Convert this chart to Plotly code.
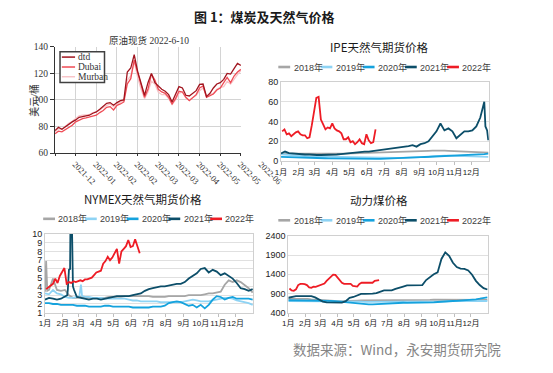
import plotly.graph_objects as go
import pandas as pd

W, H = 553, 373
PAGE_OFFSET = 8  # default body margin of the html page

# ---------------- data ----------------
# Crude oil spot (top-left), every 3 days from 2021-12-29
oil_start = "2021-12-29"
oil_dtd = [77, 79.5, 78, 80, 82, 83.5, 85, 87, 87.5, 88,
           88.5, 90, 91, 93, 95.5, 97.5, 98, 96, 98, 99.5,
           100, 121, 124, 134, 121.5, 112, 103.5, 113, 120, 113,
           110.5, 108, 106.5, 104, 98.5, 104, 110, 109, 103.5, 103,
           105, 107, 111.7, 112, 102.5, 105, 109, 112, 113, 115.5,
           120, 119.5, 123.5, 127.5, 126]
oil_dubai = [74.5, 76.5, 76, 77.5, 79.5, 81, 83.5, 85, 86, 86.5,
             87, 88, 88.5, 90.5, 92, 94.5, 95, 92.5, 96, 97,
             98.5, 112, 116, 130, 120, 110, 102, 108, 119.5, 115,
             108, 106, 105, 102, 97, 101, 106.5, 106, 102, 99.5,
             102, 104, 109, 110.5, 102, 103, 104.5, 107.5, 109, 113,
             117, 113, 118, 121, 123]
oil_murban = [76, 78.5, 78, 80.5, 82.5, 84, 86, 88, 88.5, 89,
              89, 90.5, 91, 92.5, 94.5, 96, 97, 95, 97, 98.5,
              99.5, 115, 118, 129, 117, 108, 101, 106, 114, 112,
              106, 104, 104, 101, 96.5, 100, 105, 106, 101.5, 100,
              102, 103.5, 107, 109, 103, 104, 105, 108, 109.5, 110,
              114, 112, 116, 119, 122]
oil_tick_start = "2021-12-29"
oil_tick_step_days = 18
oil_tick_count = 10

# Seasonal charts: day-of-year sampling
WEEK = list(range(1, 366, 7))      # weekly samples for full years
D22 = list(range(3, 168, 4))       # 2022 samples (every 4 days)
month_days = [1, 32, 60, 91, 121, 152, 182, 213, 244, 274, 305, 335]
month_labels = ["1月", "2月", "3月", "4月", "5月", "6月", "7月", "8月", "9月", "10月", "11月", "12月"]
years = ["2018年", "2019年", "2020年", "2021年", "2022年"]

# IPE natural gas futures
ipe_2018 = [7.5, 7.6, 7.4, 7.3, 7.2, 7.4, 7.6, 7.5, 7.3, 7.2, 7.1, 7.0, 7.0, 7.1, 7.2, 7.3, 7.5, 7.6, 7.8, 7.9,
            8.0, 8.0, 8.1, 8.2, 8.3, 8.4, 8.5, 8.6, 8.7, 8.8, 8.9, 9.0, 9.2, 9.4, 9.6, 9.8, 10.0, 10.3, 10.5, 10.7,
            10.6, 10.4, 10.2, 10.0, 9.8, 9.6, 9.5, 9.4, 9.2, 9.0, 8.8, 8.6, 8.4]
ipe_2019 = [6.8, 6.6, 6.3, 6.0, 5.6, 5.2, 4.9, 4.6, 4.5, 4.4, 4.3, 4.2, 4.1, 4.0, 3.9, 3.8, 3.7, 3.5, 3.4, 3.3,
            3.2, 3.1, 3.0, 3.0, 3.1, 3.0, 2.9, 2.9, 3.0, 3.0, 3.1, 3.2, 3.3, 3.4, 3.5, 3.7, 3.9, 4.2, 4.6, 5.0,
            5.2, 5.3, 5.4, 5.3, 5.1, 5.0, 4.9, 4.8, 4.6, 4.5, 4.3, 4.2, 4.1]
ipe_2020 = [4.2, 4.0, 3.9, 3.8, 3.6, 3.4, 3.2, 3.0, 2.9, 2.8, 2.8, 2.7, 2.6, 2.5, 2.4, 2.3, 2.2, 2.1, 2.0, 1.9,
            1.9, 1.8, 1.8, 1.9, 2.0, 2.1, 2.2, 2.3, 2.4, 2.6, 2.8, 3.0, 3.2, 3.4, 3.6, 3.8, 4.0, 4.2, 4.4, 4.6,
            4.8, 4.9, 5.0, 5.0, 5.1, 5.2, 5.4, 5.6, 5.9, 6.2, 6.6, 7.0, 7.5]
ipe_2021 = [7.5, 9.5, 8, 7.5, 7, 7, 6.5, 6.5, 6, 6, 6, 6, 6, 6.5, 6.5, 7, 7.5, 8, 8, 8.5,
            9, 9.5, 9.5, 10, 10.5, 11, 12, 12.5, 12.5, 13, 13.5, 14, 15, 16, 14.5, 17, 18, 20, 25, 30,
            38, 31, 33, 30, 23, 27, 30, 30, 31, 35, 44, 60, 21]
ipe_2021_extra_days = [360, 363]
ipe_2021_extra_vals = [35, 31]
ipe_2022 = [30, 32, 27, 28, 25, 27, 29, 30, 27, 26, 26, 23, 24, 36, 50, 64, 65, 42, 37, 32,
            34, 33, 38, 33, 31, 30, 28, 22, 22, 24, 19, 20, 17, 19, 22, 18, 17, 27, 21, 18, 19, 32]

# NYMEX natural gas futures
nym_2018 = [3.4, 3.6, 4.9, 3.6, 3.5, 3.6, 3.0, 2.7, 2.7, 2.8, 2.7, 2.7, 2.7, 2.7, 2.7, 2.7, 2.8, 2.8, 2.8, 2.8,
            2.9, 2.9, 2.9, 2.9, 2.9, 2.9, 2.9, 2.8, 2.8, 2.8, 2.8, 2.9, 2.9, 2.9, 2.9, 2.9, 3.0, 3.0, 3.0, 3.0,
            3.1, 3.2, 3.2, 3.3, 3.4, 4.2, 4.7, 4.5, 4.7, 4.5, 4.2, 3.8, 3.3]
nym_2018_extra_days = [3, 5]
nym_2018_extra_vals = [6.9, 3.5]
nym_2019 = [3.2, 3.1, 3.6, 3.2, 3.1, 2.8, 2.7, 2.7, 2.8, 4.2, 2.8, 2.8, 2.7, 2.7, 2.7, 2.6, 2.6, 2.6, 2.6, 2.6,
            2.6, 2.5, 2.4, 2.4, 2.3, 2.3, 2.3, 2.3, 2.3, 2.2, 2.2, 2.2, 2.2, 2.2, 2.2, 2.3, 2.4, 2.5, 2.4, 2.3,
            2.3, 2.3, 2.4, 2.5, 2.6, 2.7, 2.7, 2.6, 2.4, 2.3, 2.2, 2.1, 1.9]
nym_2019_extra_days = [61, 66]
nym_2019_extra_vals = [2.8, 2.9]
nym_2020 = [2.1, 2.1, 2.0, 2.0, 1.9, 1.9, 1.9, 1.9, 1.8, 1.8, 1.8, 1.7, 1.7, 1.7, 1.7, 1.8, 1.8, 1.7, 1.7, 1.7,
            1.7, 1.7, 1.6, 1.6, 1.6, 1.6, 1.6, 1.7, 1.7, 1.7, 1.8, 2.1, 2.2, 2.3, 2.2, 2.0, 1.8, 1.9, 1.6, 1.9,
            1.5, 1.9, 2.5, 2.9, 2.8, 2.5, 2.7, 2.8, 2.6, 2.6, 2.6, 2.6, 2.5]
nym_2021 = [2.5, 2.7, 2.6, 2.5, 2.6, 2.8, 5.9, 3.2, 2.8, 2.7, 2.6, 2.5, 2.6, 2.6, 2.5, 2.6, 2.7, 2.8, 2.9, 2.9,
            2.9, 2.9, 3.0, 3.1, 3.2, 3.5, 3.7, 3.8, 3.9, 4.0, 4.0, 4.1, 4.2, 4.3, 4.3, 4.5, 4.9, 5.2, 5.5, 6.0,
            6.1, 5.6, 5.9, 5.7, 5.3, 5.5, 5.2, 4.9, 4.4, 3.8, 3.7, 3.5, 3.7]
nym_2021_extra_days = [40, 41, 42, 45, 46, 47, 48, 49, 50, 52]
nym_2021_extra_vals = [3.0, 3.6, 5.8, 6.0, 14.0, 23.0, 12.0, 4.5, 4.0, 3.6]
nym_2022 = [3.7, 3.9, 4.1, 4.3, 4.9, 4.4, 5.2, 5.7, 6.1, 4.3, 4.5, 4.4, 4.6, 4.5, 4.6, 4.7, 4.6, 4.8, 4.8, 4.9,
            5.0, 5.3, 5.6, 5.7, 5.8, 6.6, 6.9, 7.4, 7.0, 7.3, 7.9, 8.3, 6.6, 8.0, 8.3, 8.6, 9.3, 8.5, 8.6, 9.4,
            8.6, 7.8]

# Thermal coal
coal_2018 = [760, 760, 765, 770, 770, 760, 750, 740, 740, 730, 720, 710, 705, 700, 700, 700, 705, 710, 715, 720,
             720, 725, 725, 725, 725, 720, 720, 720, 720, 720, 725, 725, 730, 730, 730, 730, 735, 735, 740, 740,
             740, 745, 745, 745, 745, 740, 740, 740, 735, 735, 735, 735, 735]
coal_2019 = [705, 705, 705, 705, 705, 705, 705, 705, 705, 700, 700, 700, 700, 700, 695, 690, 690, 690, 690, 690,
             685, 685, 685, 680, 680, 680, 680, 680, 680, 680, 680, 680, 680, 680, 680, 680, 680, 680, 685, 690,
             690, 695, 700, 700, 700, 705, 705, 705, 705, 705, 705, 705, 705]
coal_2020 = [725, 725, 725, 725, 725, 725, 725, 725, 725, 720, 715, 710, 700, 690, 680, 665, 650, 640, 630, 625,
             620, 620, 620, 625, 630, 640, 650, 655, 660, 660, 660, 655, 655, 655, 655, 655, 660, 665, 670, 680,
             690, 695, 700, 705, 710, 715, 720, 730, 740, 750, 765, 780, 800]
coal_2021 = [790, 820, 830, 830, 830, 830, 830, 800, 740, 690, 670, 665, 665, 665, 665, 700, 790, 810, 850, 890,
             890, 890, 895, 910, 945, 980, 980, 980, 1020, 1060, 1080, 1110, 1110, 1110, 1110, 1120, 1250, 1330, 1400, 1450,
             1800, 1970, 1880, 1700, 1590, 1550, 1540, 1500, 1390, 1230, 1120, 1040, 1005]
coal_2022 = [1030, 980, 970, 1010, 1120, 1150, 1150, 1145, 1120, 1060, 1050, 1080, 1075, 1100, 1105, 1150, 1160, 1230, 1280, 1330,
             1390, 1385, 1310, 1250, 1180, 1150, 1150, 1150, 1150, 1100, 1090, 1080, 1150, 1180, 1180, 1180, 1180, 1180, 1180, 1230,
             1250, 1250]

# ---------------- styles ----------------
YEAR_COLORS = ["#a6a6a6", "#8ed3f4", "#15a2dd", "#0c4e69", "#ee1c25"]
OIL_COLORS = {"dtd": "#a0141e", "Dubai": "#ef4b55", "Murban": "#f8c4c8"}
SANS = "Liberation Sans, Arial, Noto Sans CJK SC, sans-serif"
CJK = "Noto Sans CJK SC, sans-serif"
SERIF = "Liberation Serif, DejaVu Serif, Noto Sans CJK SC, serif"


def px(x):
    return (x - PAGE_OFFSET) / W


def py(y):
    return 1 - (y - PAGE_OFFSET) / H


def merge(days, vals, extra_days=(), extra_vals=()):
    d = dict(zip(days, vals))
    d.update(zip(extra_days, extra_vals))
    k = sorted(d)
    return k, [d[i] for i in k]


fig = go.Figure()

# ---- oil chart ----
oil_dates = pd.date_range(oil_start, periods=len(oil_dtd), freq="3D")
for name, vals in [("Murban", oil_murban), ("Dubai", oil_dubai), ("dtd", oil_dtd)]:
    fig.add_trace(go.Scatter(x=oil_dates, y=vals, mode="lines", name=name, showlegend=False,
                             line=dict(color=OIL_COLORS[name], width=1.3), xaxis="x", yaxis="y"))

# ---- seasonal charts ----
seasonal = [
    ("2", [merge(WEEK, ipe_2018), merge(WEEK, ipe_2019), merge(WEEK, ipe_2020),
           merge(WEEK, ipe_2021, ipe_2021_extra_days, ipe_2021_extra_vals), merge(D22, ipe_2022)]),
    ("3", [merge(WEEK, nym_2018, nym_2018_extra_days, nym_2018_extra_vals),
           merge(WEEK, nym_2019, nym_2019_extra_days, nym_2019_extra_vals), merge(WEEK, nym_2020),
           merge(WEEK, nym_2021, nym_2021_extra_days, nym_2021_extra_vals), merge(D22, nym_2022)]),
    ("4", [merge(WEEK, coal_2018), merge(WEEK, coal_2019), merge(WEEK, coal_2020),
           merge(WEEK, coal_2021), merge(D22, coal_2022)]),
]
for ax, series in seasonal:
    for (xs, ys), yname, col in zip(series, years, YEAR_COLORS):
        fig.add_trace(go.Scatter(x=xs, y=ys, mode="lines", name=yname, showlegend=False,
                                 line=dict(color=col, width=1.8), xaxis="x" + ax, yaxis="y" + ax))

shapes = []
annotations = []


# ---- manual legends ----
def seasonal_legend(x0, y, step):
    for i, (name, col) in enumerate(zip(years, YEAR_COLORS)):
        xs = x0 + i * step
        shapes.append(dict(type="line", xref="paper", yref="paper", x0=px(xs), x1=px(xs + 13),
                           y0=py(y), y1=py(y), line=dict(color=col, width=2.6)))
        annotations.append(dict(text=name, xref="paper", yref="paper", x=px(xs + 14.5), y=py(y),
                                xanchor="left", yanchor="middle", showarrow=False,
                                font=dict(family=SANS, size=9, color="#404040")))


seasonal_legend(298, 63.5, 46.3)
seasonal_legend(40, 219.5, 45.8)
seasonal_legend(298, 221, 46.3)

# oil legend box
shapes.append(dict(type="rect", xref="paper", yref="paper", x0=px(58.5), x1=px(107.3), y0=py(79.3), y1=py(47.7),
                   line=dict(color="#404040", width=1.5), fillcolor="white", layer="above"))
for name, yy in [("dtd", 53.3), ("Dubai", 63.5), ("Murban", 73.5)]:
    shapes.append(dict(type="line", xref="paper", yref="paper", x0=px(60.5), x1=px(75), y0=py(yy), y1=py(yy),
                       line=dict(color=OIL_COLORS[name], width=1.5), layer="above"))
    annotations.append(dict(text=name, xref="paper", yref="paper", x=px(76.3), y=py(yy), xanchor="left",
                            yanchor="middle", showarrow=False, font=dict(family=SERIF, size=9.5, color="#333333")))


# ---- titles and texts ----
def text(t, x, y, size, family=CJK, color="#1a1a1a", anchor="center", angle=0):
    annotations.append(dict(text=t, xref="paper", yref="paper", x=px(x), y=py(y), xanchor=anchor,
                            yanchor="middle", showarrow=False, textangle=angle,
                            font=dict(family=family, size=size, color=color)))


text("<b>图 1：煤炭及天然气价格</b>", 283, 12, 13)
text("原油现货 2022-6-10", 156, 36, 9.5, family=SERIF, color="#333333")
text("美元/桶", 29, 98, 10, family=SERIF, color="#333333", angle=-90)
text("IPE天然气期货价格", 408, 42.5, 11.5)
text("NYMEX天然气期货价格", 149, 199, 11.5)
text("动力煤价格", 408, 200, 11.5)
text("数据来源：Wind，永安期货研究院", 428, 353.5, 13.5, color="#858585")

# ---- axes ----
oil_ticks = pd.date_range(oil_tick_start, periods=oil_tick_count, freq=f"{oil_tick_step_days}D")
layout_axes = dict(
    xaxis=dict(domain=[px(53), px(257)], anchor="y", type="date",
               range=[oil_ticks[0], oil_ticks[-1]], tickmode="array", tickvals=list(oil_ticks),
               tickformat="%Y-%m", tickangle=45, ticklabelshift=20, showgrid=True, gridcolor="#d4d4d4",
               gridwidth=1, showline=True, linecolor="#333333", linewidth=1, ticks="outside", ticklen=2,
               tickcolor="#333333", tickfont=dict(family=SERIF, size=8.5, color="#333333"), zeroline=False),
    yaxis=dict(domain=[py(152), py(42.7)], anchor="x", range=[60, 140], dtick=20, showgrid=True,
               gridcolor="#d4d4d4", showline=True, linecolor="#333333", linewidth=1.2, ticks="outside",
               ticklen=4, tickcolor="#333333", tickfont=dict(family=SERIF, size=9.5, color="#333333"),
               zeroline=False),
)


def season_axes(n, xd, yd, yrange, dtick):
    layout_axes["xaxis" + n] = dict(domain=[px(xd[0]), px(xd[1])], anchor="y" + n, range=[1, 366],
                                    tickmode="array", tickvals=month_days, ticktext=month_labels,
                                    tickangle=0, showgrid=False, showline=True, linecolor="#d0d0d0",
                                    mirror=True, ticks="outside", ticklen=3, tickcolor="#bfbfbf",
                                    tickfont=dict(family=SANS, size=8, color="#222222"), zeroline=False)
    layout_axes["yaxis" + n] = dict(domain=[py(yd[1]), py(yd[0])], anchor="x" + n, range=yrange,
                                    tick0=yrange[0], dtick=dtick, showgrid=True, gridcolor="#e0e0e0",
                                    showline=True, linecolor="#d0d0d0", mirror=True, ticks="",
                                    tickfont=dict(family=SANS, size=9, color="#222222"), zeroline=False)


season_axes("2", (301, 529), (79, 160), [0, 80], 20)
season_axes("3", (42, 270.5), (235, 316), [1, 10], 1)
season_axes("4", (309, 528), (237, 316), [400, 2400], 500)

fig.update_layout(width=W, height=H, margin=dict(l=0, r=0, t=0, b=0), paper_bgcolor="white",
                  plot_bgcolor="white", showlegend=False, shapes=shapes, annotations=annotations,
                  **layout_axes)

fig.write_html("out.html")
